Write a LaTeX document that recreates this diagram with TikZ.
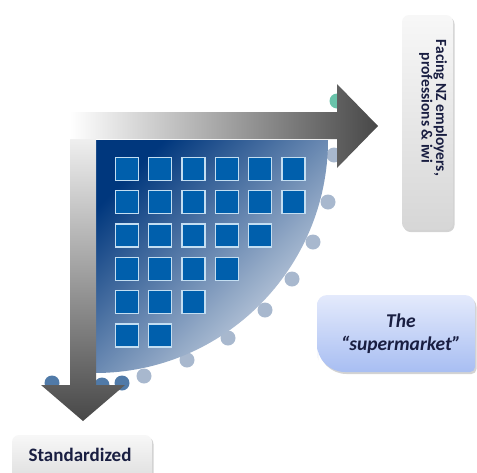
\documentclass[tikz,border=0pt]{standalone}
\usepackage{fontspec}
\setmainfont{Carlito}
\usepackage{tikz}
\usetikzlibrary{positioning,shadows}

\definecolor{navytext}{RGB}{25,30,65}
\definecolor{sqblue}{RGB}{0,95,172}
\definecolor{sqedge}{RGB}{195,222,242}
\definecolor{discdark}{RGB}{0,55,125}
\definecolor{discmid}{RGB}{40,100,168}
\definecolor{disclight}{RGB}{215,222,232}
\definecolor{dotgrey}{RGB}{168,184,206}
\definecolor{dotdark}{RGB}{80,122,168}
\definecolor{dotteal}{RGB}{105,195,170}
\definecolor{markettop}{RGB}{228,234,252}
\definecolor{marketbot}{RGB}{168,190,242}

\tikzset{
  sq/.style={draw=sqedge,line width=1.3pt,fill=sqblue,minimum size=23pt,inner sep=0pt},
  greybox/.style={rounded corners=7pt,top color=gray!6,bottom color=gray!32,
    drop shadow={shadow xshift=1.5pt,shadow yshift=-2pt,opacity=.35}},
  boxtext/.style={font=\bfseries,text=navytext,align=center,inner sep=0pt}
}

\begin{document}
\begin{tikzpicture}[x=1pt,y=-1pt]
\useasboundingbox (0,0) rectangle (477,472);
% dots round the curve
\fill[dotteal] (337,101) circle (7.5);
\fill[dotgrey] (334,155) circle (7.5);
\fill[dotgrey] (328,202) circle (7.5);
\fill[dotgrey] (313,242) circle (7.5);
\fill[dotgrey] (292,279) circle (7.5);
\fill[dotgrey] (265,310) circle (7.5);
\fill[dotgrey] (228,338) circle (7.5);
\fill[dotgrey] (187,360) circle (7.5);
\fill[dotgrey] (144,376) circle (7.5);
\fill[dotdark] (122,383) circle (7.5);
\fill[dotdark] (102,385) circle (7.5);
\fill[dotdark] (52,383) circle (7.5);
% quarter disc
\shade[top color=discdark,middle color=discmid,bottom color=disclight,shading angle=45]
  (95,140) -- (328,140) arc (0:90:233) -- cycle;
% axes
\shade[top color=white,middle color=gray!40,bottom color=black!72]
  (70,112) -- (96,112) -- (96,385) -- (125,385) -- (83,421) -- (41,385) -- (70,385) -- cycle;
\shade[left color=white,middle color=gray!40,right color=black!72]
  (70,112) -- (337,112) -- (337,84) -- (378,126) -- (337,168) -- (337,139) -- (70,139) -- cycle;
% squares
\node[sq] (s11) at (127,169) {};
\node[sq] (s12) at (160.3,169) {};
\node[sq] (s13) at (193.6,169) {};
\node[sq] (s14) at (227,169) {};
\node[sq] (s15) at (260.2,169) {};
\node[sq] (s16) at (293.5,169) {};
\node[sq] (s21) at (127,202.3) {};
\node[sq] (s22) at (160.3,202.3) {};
\node[sq] (s23) at (193.6,202.3) {};
\node[sq] (s24) at (227,202.3) {};
\node[sq] (s25) at (260.2,202.3) {};
\node[sq] (s26) at (293.5,202.3) {};
\node[sq] (s31) at (127,235.6) {};
\node[sq] (s32) at (160.3,235.6) {};
\node[sq] (s33) at (193.6,235.6) {};
\node[sq] (s34) at (227,235.6) {};
\node[sq] (s35) at (260.2,235.6) {};
\node[sq] (s41) at (127,269) {};
\node[sq] (s42) at (160.3,269) {};
\node[sq] (s43) at (193.6,269) {};
\node[sq] (s44) at (227,269) {};
\node[sq] (s51) at (127,302.3) {};
\node[sq] (s52) at (160.3,302.3) {};
\node[sq] (s53) at (193.6,302.3) {};
\node[sq] (s61) at (127,335.6) {};
\node[sq] (s62) at (160.3,335.6) {};
% labels
\node[greybox,rotate=-90,minimum width=215pt,minimum height=51pt] (employbox) at (427.5,122.5) {};
\node[boxtext,rotate=-90,font=\bfseries\fontsize{15.5}{13}\selectfont] (employ) at (433,108)
  {Facing NZ employers,\\professions \& iwi};
\shade[top color=markettop,bottom color=marketbot,
  drop shadow={shadow xshift=1.5pt,shadow yshift=-2pt,opacity=.35}]
  (317,330) [rounded corners=10pt] -- (317,295) -- (475,295) [rounded corners=5pt] -- (475,372)
  [rounded corners=28pt] -- (317,372) -- cycle;
\node[boxtext,font=\bfseries\itshape\fontsize{19.5}{23}\selectfont] (market) at (401,334)
  {The\\``supermarket''};
\path[greybox] (12,435) rectangle (152,495);
\node[boxtext,font=\bfseries\fontsize{19}{20}\selectfont] (std) at (80,455) {Standardized};
\end{tikzpicture}
\end{document}
